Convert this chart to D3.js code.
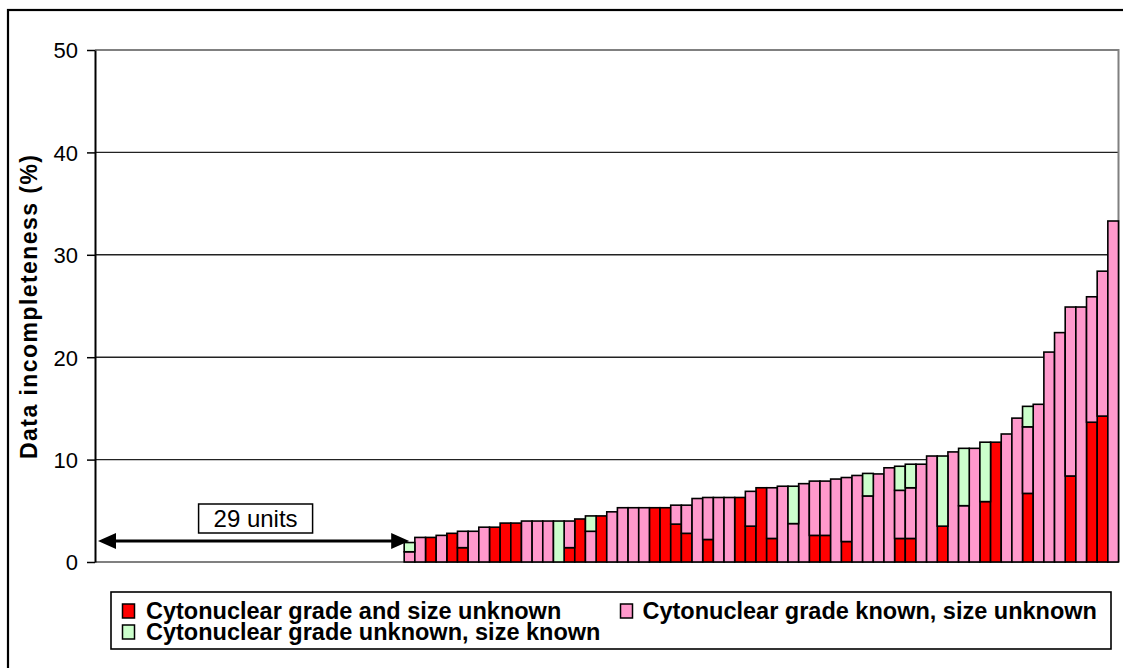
<!DOCTYPE html>
<html>
<meta charset="utf-8">

<style>
body{
	margin:0;
	padding:0;
	background:#fff;
}
text{
	font-family:"Liberation Sans", Arial, sans-serif;
}
.axis text{
	font-size:22px;
	fill:#000;
}
.legend text{
	font-size:23.5px;
	font-weight:bold;
}
</style>

<body>
<svg width="1123" height="668"></svg>
<script src="https://d3js.org/d3.v7.min.js"></script>

<script>

// units with no missing data (left empty on the chart)
var emptyUnits = 29;

// stacked components per unit, in %
var redVals = [0, 0, 2.4, 0, 2.8, 1.4, 0, 0, 3.4, 3.8, 3.8, 0, 0, 0, 0, 1.4, 4.2, 0, 4.5, 0,
  0, 0, 0, 5.3, 5.3, 3.7, 2.8, 0, 2.2, 0, 0, 6.3, 3.5, 7.25, 2.3, 0, 0, 0, 2.6, 2.6,
  0, 2.0, 0, 0, 0, 0, 2.3, 2.3, 0, 0, 3.5, 0, 0, 0, 5.9, 11.7, 0, 0, 6.7, 0,
  0, 0, 8.4, 0, 13.65, 14.25, 0];
var pinkVals = [1.0, 2.4, 0, 2.6, 0, 1.6, 3.0, 3.4, 0, 0, 0, 4.0, 4.0, 4.0, 0, 2.6, 0, 3.0, 0, 4.9,
  5.3, 5.3, 5.3, 0, 0, 1.85, 2.75, 6.2, 4.1, 6.3, 6.3, 0, 3.4, 0, 4.95, 7.4, 3.75, 7.65, 5.3, 5.3,
  8.1, 6.25, 8.45, 6.45, 8.6, 9.2, 4.7, 4.95, 9.55, 10.35, 0, 10.75, 5.5, 11.1, 0, 0, 12.5, 14.05, 6.5, 15.4,
  20.5, 22.4, 16.5, 24.9, 12.25, 14.15, 33.3];
var greenVals = [0.9, 0, 0, 0, 0, 0, 0, 0, 0, 0, 0, 0, 0, 0, 4.0, 0, 0, 1.5, 0, 0,
  0, 0, 0, 0, 0, 0, 0, 0, 0, 0, 0, 0, 0, 0, 0, 0, 3.65, 0, 0, 0,
  0, 0, 0, 2.2, 0, 0, 2.35, 2.3, 0, 0, 6.85, 0, 5.6, 0, 5.8, 0, 0, 0, 2.0, 0,
  0, 0, 0, 0, 0, 0, 0];

var yTicks = [0, 10, 20, 30, 40, 50];
var seriesKeys = ["red", "pink", "green"];
var seriesNames = ["Cytonuclear grade and size unknown",
                   "Cytonuclear grade known, size unknown",
                   "Cytonuclear grade unknown, size known"];
var seriesColors = ["#ff0000", "#ff99cc", "#ccffcc"];
var yTitle = "Data incompleteness (%)";
var arrowLabel = "29 units";

var svg = d3.select("svg"),
    plotL = 95, plotR = 1118.5, plotT = 50, plotB = 562;

var units = d3.range(1, emptyUnits + redVals.length + 1);

var x = d3.scaleBand()
    .domain(units)
    .range([plotL, plotR])
    .padding(0);

var y = d3.scaleLinear()
    .domain([0, 50])
    .range([plotB, plotT]);

var rows = redVals.map(function(r, i) {
  return {unit: emptyUnits + i + 1, red: r, pink: pinkVals[i], green: greenVals[i]};
});

var stacked = d3.stack().keys(seriesKeys)(rows);

// outer chart frame (runs off the right / bottom of the picture)
svg.append("rect")
    .attr("x", 8).attr("y", 10)
    .attr("width", 1140).attr("height", 680)
    .attr("fill", "none")
    .attr("stroke", "#000")
    .attr("stroke-width", 2.2);

// gridlines
svg.append("g")
  .selectAll("line")
  .data(yTicks.filter(function(t) { return t > 0 && t < 50; }))
  .enter().append("line")
    .attr("x1", plotL).attr("x2", plotR)
    .attr("y1", function(d) { return y(d); })
    .attr("y2", function(d) { return y(d); })
    .attr("stroke", "#222")
    .attr("stroke-width", 1.4);

// plot border top / right, and zero line
svg.append("path")
    .attr("d", "M" + plotL + "," + y(50) + "H" + plotR + "V" + y(0))
    .attr("fill", "none")
    .attr("stroke", "#808080")
    .attr("stroke-width", 2);
svg.append("line")
    .attr("x1", plotL).attr("x2", plotR)
    .attr("y1", y(0)).attr("y2", y(0))
    .attr("stroke", "#808080")
    .attr("stroke-width", 2);

// stacked bars
svg.append("g")
  .selectAll("g")
  .data(stacked)
  .enter().append("g")
    .attr("fill", function(d, i) { return seriesColors[i]; })
  .selectAll("rect")
  .data(function(d) { return d.filter(function(s) { return s[1] - s[0] > 0; }); })
  .enter().append("rect")
    .attr("x", function(d) { return x(d.data.unit); })
    .attr("y", function(d) { return y(d[1]); })
    .attr("width", x.bandwidth())
    .attr("height", function(d) { return y(d[0]) - y(d[1]); })
    .attr("stroke", "#000")
    .attr("stroke-width", 1.6);

// y axis
var yAxis = svg.append("g")
    .attr("class", "axis")
    .attr("transform", "translate(" + plotL + ",0)")
    .call(d3.axisLeft(y).tickValues(yTicks).tickSize(8).tickSizeOuter(0).tickPadding(9));
yAxis.select(".domain").attr("stroke", "#000").attr("stroke-width", 2);
yAxis.selectAll(".tick line").attr("stroke", "#000").attr("stroke-width", 1.5);
yAxis.selectAll(".tick text").attr("dy", "0.36em").style("font-family", "'Liberation Sans', Arial, sans-serif");

svg.append("text")
    .attr("transform", "translate(37," + (y(25) + 1) + ") rotate(-90)")
    .attr("text-anchor", "middle")
    .attr("font-size", 23)
    .attr("font-weight", "bold")
    .attr("textLength", 304)
    .attr("lengthAdjust", "spacing")
    .text(yTitle);

// "29 units" arrow
var ax1 = x(1) + 3, ax2 = x(emptyUnits + 1) + 5, ay = 541;
svg.append("line")
    .attr("x1", ax1 + 12).attr("x2", ax2 - 12)
    .attr("y1", ay).attr("y2", ay)
    .attr("stroke", "#000")
    .attr("stroke-width", 3);
svg.append("path")
    .attr("d", "M" + ax1 + "," + ay + "l18,-8v16z M" + ax2 + "," + ay + "l-18,-8v16z")
    .attr("fill", "#000");

var boxW = 114, boxH = 29, boxCx = (ax1 + ax2) / 2 + 2;
svg.append("rect")
    .attr("x", boxCx - boxW / 2).attr("y", 504)
    .attr("width", boxW).attr("height", boxH)
    .attr("fill", "#fff")
    .attr("stroke", "#000")
    .attr("stroke-width", 1.5);
svg.append("text")
    .attr("x", boxCx).attr("y", 527)
    .attr("text-anchor", "middle")
    .attr("font-size", 24)
    .text(arrowLabel);

// legend
var legend = svg.append("g").attr("class", "legend");
legend.append("rect")
    .attr("x", 111).attr("y", 592)
    .attr("width", 1000).attr("height", 57)
    .attr("fill", "#fff")
    .attr("stroke", "#000")
    .attr("stroke-width", 1.6);

var legendPos = [[122.5, 604], [620.5, 604], [122.5, 625]];

var item = legend.selectAll(".item")
    .data(seriesNames)
    .enter().append("g")
    .attr("class", "item")
    .attr("transform", function(d, i) { return "translate(" + legendPos[i][0] + "," + legendPos[i][1] + ")"; });

item.append("rect")
    .attr("width", 12).attr("height", 14)
    .attr("fill", function(d, i) { return seriesColors[i]; })
    .attr("stroke", "#000")
    .attr("stroke-width", 1.5);

item.append("text")
    .attr("x", function(d, i) { return i === 1 ? 22 : 23.5; })
    .attr("y", 14.5)
    .text(function(d) { return d; });

</script>
</body>
</html>
